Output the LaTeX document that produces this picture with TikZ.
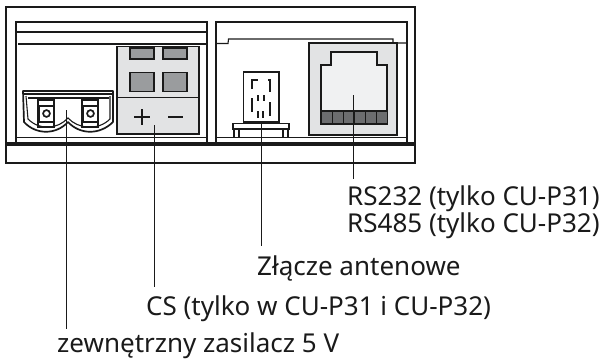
\documentclass[tikz,border=0pt]{standalone}
\usepackage{fontspec}
\setmainfont{Noto Sans}
\definecolor{ln}{HTML}{1A1A1A}
\definecolor{pale}{HTML}{E2E3E4}
\definecolor{midg}{HTML}{9A9C9E}
\definecolor{jack}{HTML}{F0F1F2}
\tikzset{
  ol/.style={draw=ln,line width=1.7pt},
  thin1/.style={draw=ln,line width=1.1pt},
  thick2/.style={draw=ln,line width=2.2pt},
  lead/.style={draw=ln,line width=0.9pt},
  lbl/.style={inner sep=0pt,anchor=base west,font=\fontsize{26}{28}\selectfont,text=ln}
}
\begin{document}
\begin{tikzpicture}[x=1pt,y=-1pt]
\useasboundingbox (0,0) rectangle (605,360);
% outer casing
\draw[ol] (6,7) rectangle (415,163);
\draw[draw=ln,line width=4pt] (6,144) -- (415,144);
% left bay
\draw[ol] (16,142) -- (16,22) -- (207,22) -- (207,142);
\draw[thick2] (16,32) -- (207,32);
\draw[thin1] (18,44) -- (207,44);
\draw[ol] (16,137.5) -- (207,137.5) (216,137.5) -- (407,137.5);
% CS block
\draw[ol,fill=pale] (117,46.5) rectangle (199,134);
\draw[ol] (117,97.5) -- (200,97.5);
\foreach \x in {130,163} {
  \draw[ol,fill=midg] (\x,48) rectangle ++(24,11);
  \draw[ol,fill=midg] (\x,72.5) rectangle ++(24,19);
}
\draw[draw=ln,line width=1.8pt] (134,117) -- (150,117) (142,109) -- (142,125) (168,117) -- (183,117);
% plug
\foreach \x in {38,82} {
  \draw[thin1] (\x,100) rectangle ++(16,27);
  \draw[ol,fill=white] (\x+1,106) rectangle ++(15,16);
  \draw[ol] (\x+8.5,113.5) circle (3.4);
}
\draw[ol,line join=round] (23,91) -- (113,91) -- (113,122) .. controls (100,135) and (80,135) .. (68,122) .. controls (56,135) and (36,135) .. (24,122) -- cycle;
\draw[thick2] (24,94) -- (112,94);
\draw[thin1] (28,98) -- (109,98);
\draw[thin1] (26,96) -- (28,119) .. controls (40,131) and (58,129) .. (68,118) .. controls (78,129) and (98,131) .. (110,119) -- (110,96);
% right bay
\draw[ol] (216,142) -- (216,22) -- (407,22) -- (407,142);
\draw[thin1] (216,43.5) -- (228,43.5) -- (228.5,39) -- (393,39) -- (393,43) -- (407,43);
% jack
\draw[ol,fill=pale] (309,43) rectangle (397,135);
\draw[ol,fill=jack] (321,65) -- (331,65) -- (331,52) -- (377,52) -- (377,65) -- (387,65) -- (387,124) -- (321,124) -- cycle;
\foreach \i in {0,...,5} {
  \draw[ol,fill=midg!70!black] (321.5+\i*11,111) rectangle ++(11,13);
}
% antenna
\draw[ol] (243.5,72) rectangle (279,122);
\draw[ol] (233,123.5) rectangle (289,129);
\draw[thin1] (234,129) -- (234,137) (239,129) -- (239,137) (283,129) -- (283,137) (288,129) -- (288,137);
\draw[ol] (252,89) -- (252,80) -- (258,80) (268,80) -- (270,80) -- (270,92);
\draw[ol] (252,98) -- (252,112) (258,95) -- (258,101) (264,95) -- (264,101) (270,102) -- (270,116);
\draw[ol] (258,111) -- (258,118) (263,111) -- (263,118);
% leaders
\coordinate (a1) at (66,110); \coordinate (a2) at (66,329);
\coordinate (b1) at (154,125); \coordinate (b2) at (154,287);
\coordinate (c1) at (261,122); \coordinate (c2) at (261,246);
\coordinate (d1) at (353,95); \coordinate (d2) at (353,179);
\draw[lead] (a1) -- (a2);
\draw[lead] (b1) -- (b2);
\draw[lead] (c1) -- (c2);
\draw[lead] (d1) -- (d2);
% labels
\node[lbl] (rs1) at (347,205) {RS232 (tylko CU-P31)};
\node[lbl] (rs2) at (347,232) {RS485 (tylko CU-P32)};
\node[lbl] (ant) at (257,275) {Złącze antenowe};
\node[lbl] (cs) at (146,315) {CS (tylko w CU-P31 i CU-P32)};
\node[lbl] (zas) at (57,352.5) {zewnętrzny zasilacz 5 V};
\end{tikzpicture}
\end{document}
